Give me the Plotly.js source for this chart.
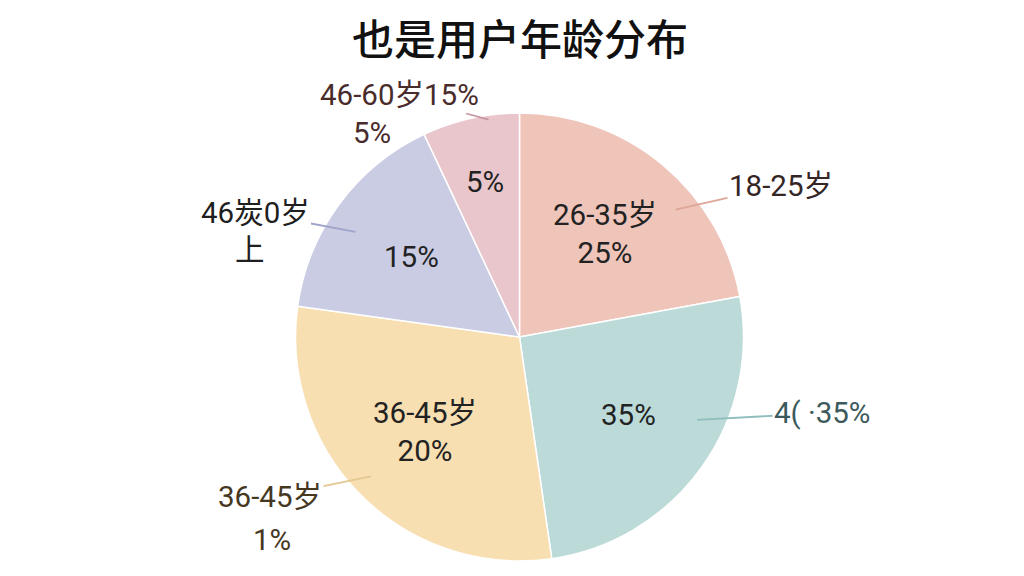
<!DOCTYPE html>
<html><head><meta charset="utf-8">
<script src="https://cdn.plot.ly/plotly-3.0.1.min.js"></script>
<style>html,body{margin:0;padding:0;background:#fff}#chart{width:1024px;height:576px}</style>
</head><body><div id="chart"></div>
<script>
// ---- data ----
const categories = ['18-25岁', '46 35%', '36-45岁', '46炭0岁上', '46-60岁'];
const shares = [22.1, 25.6, 29.5, 15.8, 7.0];          // slice sizes as drawn
const innerLabels = [['26-35岁', '25%'], ['35%'], ['36-45岁', '20%'], ['15%'], ['5%']];
const outerLabels = [['18-25岁'], ['4( ·35%'], ['36-45岁', '1%'], ['46炭0岁', '上'], ['46-60岁15%', '5%']];
const sliceColors = ['#EFC4B9', '#BBDAD8', '#F7DFB2', '#CACCE3', '#E8C6CB'];
const leaderColors = ['#DDA697', '#8FBEBD', '#E3C892', '#A0A4CB', '#C696A0'];
const outerTextColors = ['#352626', '#3c5a5c', '#46381f', '#1f1f1f', '#4a2b2b'];

// ---- layout geometry ----
const W = 1024, H = 576;
const M = {l: 0, r: 0, t: 113, b: 15};
const plotW = W - M.l - M.r, plotH = H - M.t - M.b;
const R = plotH / 2;
const cx = 519.5, cy = M.t + R;
const FONT = "Roboto, 'Noto Sans CJK SC', sans-serif";
const FS = 29.5;
const toPaper = (px, py) => ({x: (px - M.l) / plotW, y: (M.t + plotH - py) / plotH});

const innerR = [0.6, 0.6, 0.6, 0.6, 0.71];
const outerCfg = [
  {dAng: 11, rf: 0.9, pos: [[781, 186]]},
  {dAng: -10.6, rf: 0.875, pos: [[822, 413]]},
  {dAng: 2, rf: 0.91, pos: [[270, 497], [272, 540]]},
  {dAng: -3.7, rf: 0.87, pos: [[255, 213], [250, 250]]},
  {dAng: 4.5, rf: 0.98, pos: [[399, 95], [372, 133]]}
];

const total = shares.reduce((a, b) => a + b, 0);
const annotations = [];
let cum = 0;
shares.forEach((v, i) => {
  const midDeg = 360 * (cum + v / 2) / total;
  cum += v;
  const t = midDeg * Math.PI / 180;
  const ir = innerR[i] * R;
  const p = toPaper(cx + ir * Math.sin(t), cy - ir * Math.cos(t));
  annotations.push({
    xref: 'paper', yref: 'paper', x: p.x, y: p.y, showarrow: false,
    xanchor: 'center', yanchor: 'middle', align: 'center',
    text: innerLabels[i].join('<br>'),
    font: {family: FONT, size: FS, color: '#222222'}
  });
  const oc = outerCfg[i];
  const ta = (midDeg + oc.dAng) * Math.PI / 180;
  const tipX = cx + oc.rf * R * Math.sin(ta), tipY = cy - oc.rf * R * Math.cos(ta);
  const tp = toPaper(tipX, tipY);
  outerLabels[i].forEach((line, j) => {
    const [tx, ty] = oc.pos[j];
    if (j === 0) {
      annotations.push({
        xref: 'paper', yref: 'paper', x: tp.x, y: tp.y,
        showarrow: true, arrowhead: 0, arrowwidth: 1.8, arrowcolor: leaderColors[i],
        ax: tx - tipX, ay: ty - tipY, standoff: 0,
        text: line, font: {family: FONT, size: FS, color: outerTextColors[i]}
      });
    } else {
      const q = toPaper(tx, ty);
      annotations.push({
        xref: 'paper', yref: 'paper', x: q.x, y: q.y, showarrow: false,
        xanchor: 'center', yanchor: 'middle',
        text: line, font: {family: FONT, size: FS, color: outerTextColors[i]}
      });
    }
  });
});

const trace = {
  type: 'pie',
  labels: categories,
  values: shares,
  sort: false,
  direction: 'clockwise',
  rotation: 0,
  textinfo: 'none',
  hoverinfo: 'skip',
  showlegend: false,
  marker: {colors: sliceColors, line: {color: '#ffffff', width: 1.5}},
  domain: {x: [(cx - R - M.l) / plotW, (cx + R - M.l) / plotW], y: [0, 1]}
};

const layout = {
  width: W, height: H,
  margin: M,
  paper_bgcolor: '#ffffff',
  plot_bgcolor: '#ffffff',
  title: {
    text: '也是用户年龄分布',
    font: {family: "'Noto Sans CJK SC', sans-serif", size: 42, color: '#111111', weight: 500},
    xref: 'container', yref: 'container',
    x: 520 / W, xanchor: 'center', y: 1 - 40 / H, yanchor: 'middle'
  },
  annotations: annotations
};

Plotly.newPlot('chart', [trace], layout, {staticPlot: true, displayModeBar: false});
</script>
</body></html>
